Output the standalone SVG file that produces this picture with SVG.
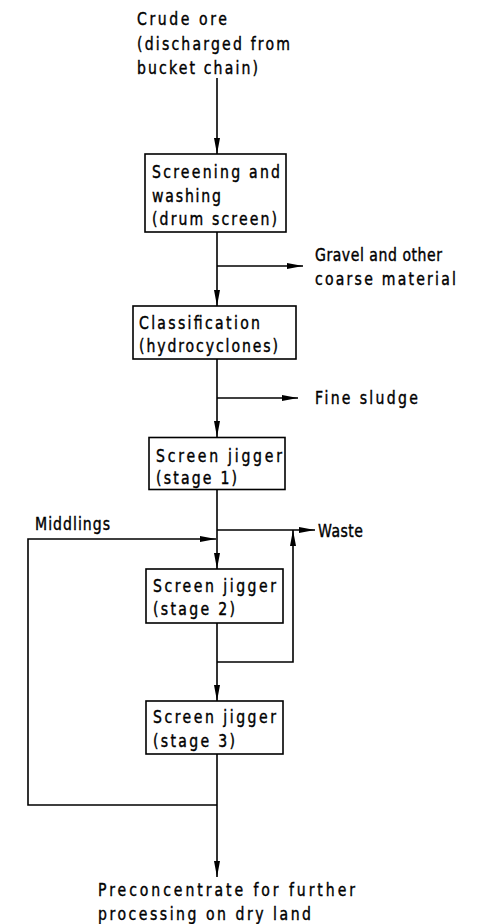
<svg xmlns="http://www.w3.org/2000/svg" width="497" height="924" viewBox="0 0 497 924">
<style>
text{font-family:"DejaVu Sans","Liberation Sans",sans-serif;font-size:18.5px;fill:#000;stroke:#000;stroke-width:0.45}
.box{fill:#fff;stroke:#000;stroke-width:1.6}
.con{fill:none;stroke:#000;stroke-width:1.6}
</style>
<defs>
<marker id="ah" viewBox="0 0 16 8" refX="16" refY="4" markerWidth="16" markerHeight="8" markerUnits="userSpaceOnUse" orient="auto">
<path d="M0,1 L16,4 L0,7 Z" fill="#000"/>
</marker>
</defs>
<rect width="497" height="924" fill="#fff"/>
<g id="connectors">
<path class="con" d="M217,78 V154" marker-end="url(#ah)"/>
<path class="con" d="M217,232 V306" marker-end="url(#ah)"/>
<path class="con" d="M217,266 H303" marker-end="url(#ah)"/>
<path class="con" d="M217,359 V437" marker-end="url(#ah)"/>
<path class="con" d="M217,398 H298" marker-end="url(#ah)"/>
<path class="con" d="M217,490 V569" marker-end="url(#ah)"/>
<path class="con" d="M217,530 H315" marker-end="url(#ah)"/>
<path class="con" d="M217,805 H28 V539 H216" marker-end="url(#ah)"/>
<path class="con" d="M217,623 V701" marker-end="url(#ah)"/>
<path class="con" d="M217,662 H293 V530" marker-end="url(#ah)"/>
<path class="con" d="M217,754 V877" marker-end="url(#ah)"/>
</g>
<g id="crude-ore">
<text transform="translate(137,25) scale(0.76,1)" textLength="118.4" lengthAdjust="spacing">Crude ore</text>
<text transform="translate(137,49.5) scale(0.76,1)" textLength="201.3" lengthAdjust="spacing">(discharged from</text>
<text transform="translate(137,74) scale(0.76,1)" textLength="159.2" lengthAdjust="spacing">bucket chain)</text>
</g>
<g id="screening">
<rect class="box" x="145" y="154" width="141" height="78"/>
<text transform="translate(152,178) scale(0.76,1)" textLength="168.4" lengthAdjust="spacing">Screening and</text>
<text transform="translate(152,201.5) scale(0.76,1)" textLength="90.8" lengthAdjust="spacing">washing</text>
<text transform="translate(152,225) scale(0.76,1)" textLength="164.5" lengthAdjust="spacing">(drum screen)</text>
</g>
<g id="gravel">
<text transform="translate(315,261) scale(0.76,1)" textLength="167.1" lengthAdjust="spacing">Gravel and other</text>
<text transform="translate(315,285) scale(0.76,1)" textLength="185.5" lengthAdjust="spacing">coarse material</text>
</g>
<g id="classification">
<rect class="box" x="133" y="306" width="163" height="53"/>
<text transform="translate(139,328.5) scale(0.76,1)" textLength="159.2" lengthAdjust="spacing">Classification</text>
<text transform="translate(139,351.5) scale(0.76,1)" textLength="182.9" lengthAdjust="spacing">(hydrocyclones)</text>
</g>
<g id="fine-sludge">
<text transform="translate(315,404) scale(0.76,1)" textLength="135.5" lengthAdjust="spacing">Fine sludge</text>
</g>
<g id="jigger1">
<rect class="box" x="149" y="437.5" width="136" height="52"/>
<text transform="translate(156,461.5) scale(0.76,1)" textLength="165.8" lengthAdjust="spacing">Screen jigger</text>
<text transform="translate(156,483.5) scale(0.76,1)" textLength="106.6" lengthAdjust="spacing">(stage 1)</text>
</g>
<g id="waste">
<text transform="translate(318,536.5) scale(0.76,1)" textLength="59.2" lengthAdjust="spacing">Waste</text>
</g>
<g id="middlings">
<text transform="translate(35,530) scale(0.76,1)" textLength="98.7" lengthAdjust="spacing">Middlings</text>
</g>
<g id="jigger2">
<rect class="box" x="146" y="569" width="137" height="54"/>
<text transform="translate(153,591.5) scale(0.76,1)" textLength="161.8" lengthAdjust="spacing">Screen jigger</text>
<text transform="translate(153,615) scale(0.76,1)" textLength="107.9" lengthAdjust="spacing">(stage 2)</text>
</g>
<g id="jigger3">
<rect class="box" x="146" y="701" width="137" height="53"/>
<text transform="translate(153,722.5) scale(0.76,1)" textLength="161.8" lengthAdjust="spacing">Screen jigger</text>
<text transform="translate(153,746.5) scale(0.76,1)" textLength="107.9" lengthAdjust="spacing">(stage 3)</text>
</g>
<g id="preconcentrate">
<text transform="translate(98,896) scale(0.76,1)" textLength="338.2" lengthAdjust="spacing">Preconcentrate for further</text>
<text transform="translate(98,919.5) scale(0.76,1)" textLength="280.3" lengthAdjust="spacing">processing on dry land</text>
</g>
</svg>
